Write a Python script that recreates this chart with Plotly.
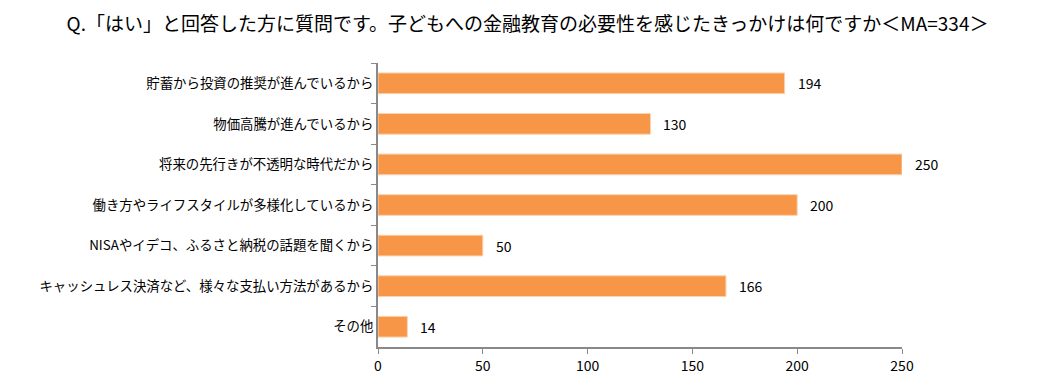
import plotly.graph_objects as go

categories = [
    "貯蓄から投資の推奨が進んでいるから",
    "物価高騰が進んでいるから",
    "将来の先行きが不透明な時代だから",
    "働き方やライフスタイルが多様化しているから",
    "NISAやイデコ、ふるさと納税の話題を聞くから",
    "キャッシュレス決済など、様々な支払い方法があるから",
    "その他",
]
values = [194, 130, 250, 200, 50, 166, 14]
x_ticks = [0, 50, 100, 150, 200, 250]

title_text = "Q.「はい」と回答した方に質問です。子どもへの金融教育の必要性を感じたきっかけは何ですか＜MA=334＞"
font_family = "Noto Sans CJK JP, Noto Sans, sans-serif"

fig = go.Figure(
    go.Bar(
        x=values,
        y=categories,
        orientation="h",
        marker=dict(color="#F79646", line=dict(color="#FAD2B0", width=1)),
        width=0.51,
        hoverinfo="x+y",
    )
)

# value labels placed next to each bar end
for cat, v in zip(categories, values):
    fig.add_annotation(
        x=v,
        y=cat,
        xref="x",
        yref="y",
        text=str(v),
        showarrow=False,
        xanchor="left",
        yanchor="middle",
        xshift=11,
        font=dict(size=14, color="#000000", family=font_family),
    )

# page body has an 8px default margin, so the figure is sized/offset accordingly
fig.update_layout(
    width=1039,
    height=380,
    margin=dict(l=370, r=145, t=55, b=41),
    paper_bgcolor="white",
    plot_bgcolor="white",
    showlegend=False,
    title=dict(
        text=title_text,
        x=0.5,
        xanchor="center",
        y=0.958,
        yanchor="middle",
        font=dict(size=19, color="#000000", family=font_family),
    ),
    font=dict(family=font_family, color="#000000"),
)

fig.update_xaxes(
    range=[0, 250],
    tickvals=x_ticks,
    ticks="outside",
    ticklen=5,
    tickcolor="#898989",
    showline=True,
    linecolor="#898989",
    linewidth=2,
    showgrid=False,
    zeroline=False,
    tickfont=dict(size=14, color="#000000"),
)

fig.update_yaxes(
    autorange="reversed",
    ticks="outside",
    tickson="boundaries",
    ticklen=5,
    tickcolor="#898989",
    showline=True,
    linecolor="#898989",
    linewidth=2,
    showgrid=False,
    zeroline=False,
    tickfont=dict(size=13.4, color="#000000"),
)

fig.write_html("out.html")
